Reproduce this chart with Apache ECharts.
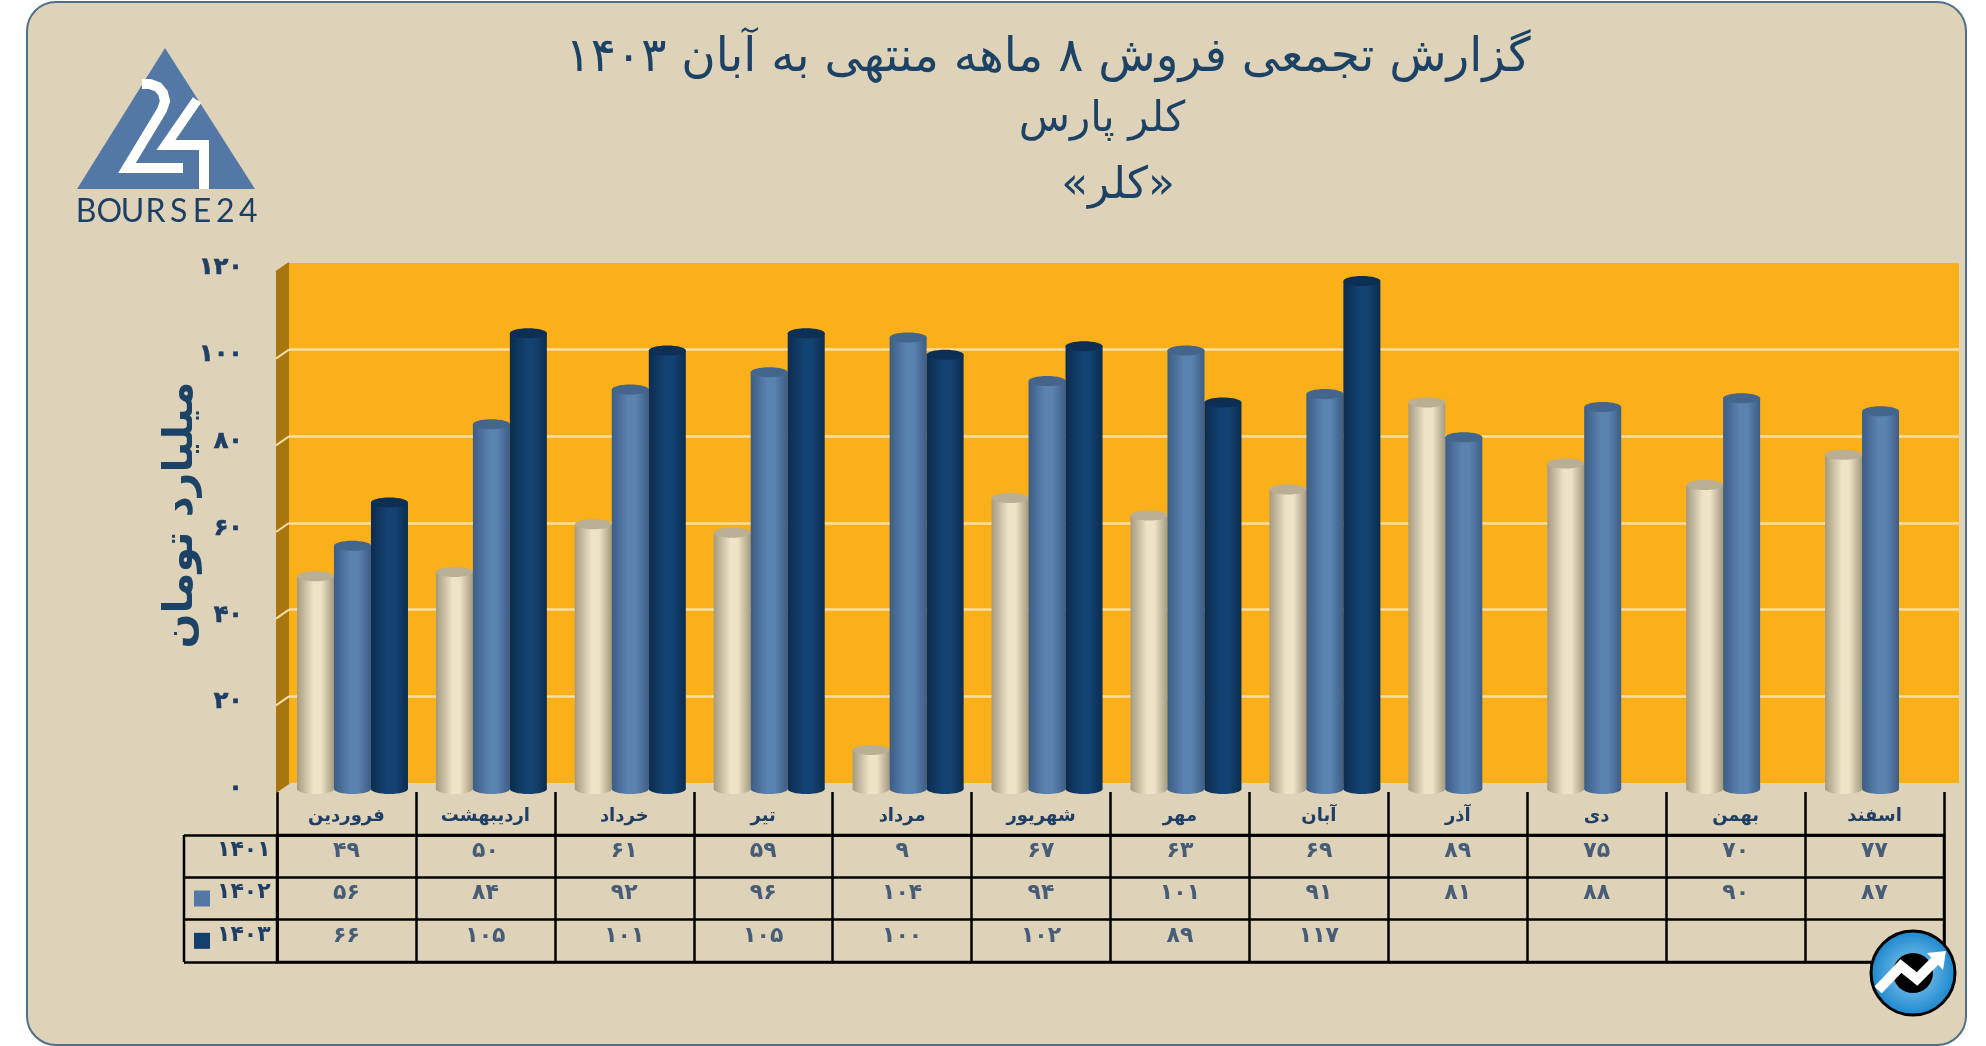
<!DOCTYPE html>
<html lang="fa">
<head>
<meta charset="utf-8">
<title>کلر پارس</title>
<script src="https://cdn.jsdelivr.net/npm/echarts@6/dist/echarts.min.js"></script>
<style>
  html, body { margin: 0; padding: 0; background: #fff; }
  #card {
    position: absolute; left: 26px; top: 1px; width: 1937px; height: 1041px;
    background: #ded3b8; border: 2px solid #4f7089; border-radius: 30px;
  }
  #chart { position: absolute; left: 0; top: 0; width: 1986px; height: 1046px; }
</style>
</head>
<body>
<div id="card"></div>
<div id="chart"></div>
<script>
var months = ['فروردین', 'اردیبهشت', 'خرداد', 'تیر', 'مرداد', 'شهریور', 'مهر', 'آبان', 'آذر', 'دی', 'بهمن', 'اسفند'];
var years = [1401, 1402, 1403];
var sales1401 = [49, 50, 61, 59, 9, 67, 63, 69, 89, 75, 70, 77];
var sales1402 = [56, 84, 92, 96, 104, 94, 101, 91, 81, 88, 90, 87];
var sales1403 = [66, 105, 101, 105, 100, 102, 89, 117];
var yTicks = [0, 20, 40, 60, 80, 100, 120];
var titleLines = ['گزارش تجمعی فروش ۸ ماهه منتهی به آبان ۱۴۰۳', 'کلر پارس', '«کلر»'];
var yName = 'میلیارد تومان';

var font = '"DejaVu Sans"';
var navy = '#1f3f66';

function fa(n) {
    return String(n).replace(/\d/g, function (d) { return '۰۱۲۳۴۵۶۷۸۹'[d]; });
}

function grad(edge, mid) {
    return new echarts.graphic.LinearGradient(0, 0, 1, 0, [
        {offset: 0, color: edge}, {offset: 0.45, color: mid}, {offset: 0.65, color: mid}, {offset: 1, color: edge}
    ]);
}

// one cylinder series, slot is -1, 0 or 1 inside the month band
function cylinders(values, slot, edge, mid, cap) {
    return {
        type: 'custom',
        xAxisIndex: 1,
        yAxisIndex: 1,
        encode: {x: 0, y: 1},
        data: values.map(function (v, i) { return [i, v]; }),
        renderItem: function (params, api) {
            var top = api.coord([api.value(0), api.value(1)]);
            var base = api.coord([api.value(0), 0]);
            var w = 37, ry = 5;
            var cx = top[0] + slot * 37;
            return {
                type: 'group',
                children: [
                    {type: 'ellipse', shape: {cx: cx, cy: base[1], rx: w / 2, ry: ry}, style: {fill: grad(edge, mid)}},
                    {type: 'rect', shape: {x: cx - w / 2, y: top[1], width: w, height: base[1] - top[1]}, style: {fill: grad(edge, mid)}},
                    {type: 'ellipse', shape: {cx: cx, cy: top[1], rx: w / 2, ry: ry}, style: {fill: cap}}
                ]
            };
        }
    };
}

// cells of the table under the chart
var cells = [];
[sales1401, sales1402, sales1403].forEach(function (row, r) {
    row.forEach(function (v, i) { cells.push([i, r, v]); });
});

var titles = titleLines.map(function (t, i) {
    return {
        text: t,
        left: [1043, 1097, 1113][i],
        top: [30, 94, 160][i],
        textAlign: 'center',
        textStyle: {fontFamily: font, fontWeight: 'normal', fontSize: [47, 42, 44][i], color: '#1c4366'}
    };
});

var logoLetters = 'BOURSE24'.split('').map(function (c, i) {
    return {
        type: 'text', z: 100, x: 86 + i * 23.2, y: 212,
        style: {text: c, font: '32px Lato', fill: '#1c3f66', align: 'center', verticalAlign: 'middle'}
    };
});

var option = {
    animation: false,
    title: titles,
    grid: [
        {left: 289, top: 263, width: 1670, height: 520, show: true, backgroundColor: '#fbb019', borderWidth: 0},
        {left: 283, top: 268, width: 1667, height: 521},
        {left: 277, top: 835, width: 1667, height: 127, show: true, borderColor: '#000', borderWidth: 2.5}
    ],
    xAxis: [
        {gridIndex: 0, type: 'value', min: 0, max: 1, show: false},
        {gridIndex: 1, type: 'category', data: months, show: false},
        {
            gridIndex: 2, type: 'category', data: months, position: 'top',
            axisLine: {lineStyle: {color: '#000', width: 2.5}},
            axisTick: {show: true, length: 43, lineStyle: {color: '#000', width: 2.5}},
            splitLine: {show: true, lineStyle: {color: '#000', width: 2.5}},
            axisLabel: {interval: 0, margin: 10, fontFamily: font, fontWeight: 'bold', fontSize: 18, color: navy}
        }
    ],
    yAxis: [
        {
            gridIndex: 0, type: 'value', min: 0, max: 120, interval: 20,
            axisLine: {show: false}, axisTick: {show: false}, axisLabel: {show: false},
            splitLine: {show: true, showMinLine: false, showMaxLine: false, lineStyle: {color: '#f8deA6', width: 2.5}}
        },
        {
            gridIndex: 1, type: 'value', min: 0, max: 120, interval: 20,
            axisLine: {show: false}, axisTick: {show: false}, splitLine: {show: false},
            axisLabel: {
                margin: 40, fontFamily: font, fontWeight: 'bold', fontSize: 24, color: navy,
                textBorderColor: navy, textBorderWidth: 0.7, formatter: fa
            }
        },
        {
            gridIndex: 2, type: 'category', inverse: true, data: years.map(fa),
            axisLine: {lineStyle: {color: '#000', width: 2.5}},
            axisTick: {show: true, length: 93, lineStyle: {color: '#000', width: 2.5}},
            splitLine: {show: true, lineStyle: {color: '#000', width: 2.5}},
            axisLabel: {
                align: 'left',
                margin: 83,
                formatter: function (v, i) {
                    return ['{none|}', '{mid|}', '{dark|}'][i] + '{gap|}{t|' + v + '}';
                },
                rich: {
                    none: {width: 16, height: 16},
                    mid: {width: 16, height: 16, backgroundColor: '#5478a6'},
                    dark: {width: 16, height: 16, backgroundColor: '#123f6d'},
                    gap: {width: 7},
                    t: {fontFamily: font, fontWeight: 'bold', fontSize: 22, color: navy, padding: [0, 0, 12, 0]}
                }
            }
        }
    ],
    series: [
        {
            // left side of the wall, one piece per tick step
            type: 'custom',
            xAxisIndex: 0,
            yAxisIndex: 0,
            encode: {y: 1},
            data: yTicks.map(function (v) { return [0, v]; }),
            renderItem: function (params, api) {
                var v = api.value(1);
                var p = api.coord([0, v]);
                var q = api.coord([0, Math.min(v + 20, 120)]);
                var x = params.coordSys.x;
                var edge = v === 0 || v === 120;
                return {
                    type: 'group',
                    children: [
                        {type: 'polygon', shape: {points: [[x, p[1]], [x, q[1]], [x - 13, q[1] + 9], [x - 13, p[1] + 9]]}, style: {fill: '#a8760e'}},
                        {type: 'line', shape: {x1: x, y1: p[1], x2: x - 13, y2: p[1] + 9}, style: {stroke: edge ? '#a8760e' : '#f8dea6', lineWidth: 2}}
                    ]
                };
            }
        },
        cylinders(sales1401, -1, '#a39a80', '#eee3c6', '#b9af94'),
        cylinders(sales1402, 0, '#3c5d85', '#5b83b0', '#44658c'),
        cylinders(sales1403, 1, '#0c2c50', '#134372', '#0d2f54'),
        {
            type: 'scatter',
            xAxisIndex: 2,
            yAxisIndex: 2,
            symbolSize: 0,
            data: cells,
            label: {
                show: true,
                position: 'inside',
                offset: [0, -5],
                fontFamily: font,
                fontWeight: 'bold',
                fontSize: 22,
                color: navy,
                formatter: function (p) { return fa(p.value[2]); }
            }
        }
    ],
    graphic: [
        {
            type: 'text', z: 100, x: 181, y: 515, rotation: Math.PI / 2,
            style: {text: yName, font: 'bold 41px ' + font, fill: '#1c4366', align: 'center', verticalAlign: 'middle'}
        },
        // left end of the table
        {type: 'line', z: 100, shape: {x1: 184, y1: 835, x2: 184, y2: 962}, style: {stroke: '#000', lineWidth: 2.5}},
        // logo
        {type: 'polygon', z: 100, shape: {points: [[165, 48], [77, 189], [255, 189]]}, style: {fill: '#5478a6'}},
        {
            type: 'polyline', z: 101,
            shape: {points: [[142, 84], [150, 84], [158, 87], [163, 93], [165, 101], [162, 110], [127, 168], [183, 168]]},
            style: {stroke: '#fff', lineWidth: 10, fill: 'none'}
        },
        {type: 'polyline', z: 101, shape: {points: [[197, 100], [166, 145], [204, 145], [204, 189]]}, style: {stroke: '#fff', lineWidth: 10, fill: 'none'}}
    ].concat(logoLetters).concat([
        // round badge bottom right
        {
            type: 'circle', z: 100, shape: {cx: 1913, cy: 973, r: 42},
            style: {
                fill: new echarts.graphic.RadialGradient(0.5, 0.5, 0.5, [{offset: 0, color: '#8fd0f2'}, {offset: 1, color: '#1a85cc'}]),
                stroke: '#000', lineWidth: 3
            }
        },
        {type: 'circle', z: 101, shape: {cx: 1913, cy: 973, r: 20}, style: {fill: '#000'}},
        {type: 'polyline', z: 102, shape: {points: [[1878, 990], [1901, 966], [1917, 979], [1938, 958]]}, style: {stroke: '#fff', lineWidth: 10, fill: 'none'}},
        {type: 'polygon', z: 102, shape: {points: [[1927, 953], [1946, 951], [1943, 970]]}, style: {fill: '#fff'}}
    ])
};

var chart = echarts.init(document.getElementById('chart'), null, {renderer: 'canvas'});
chart.setOption(option);
</script>
</body>
</html>
